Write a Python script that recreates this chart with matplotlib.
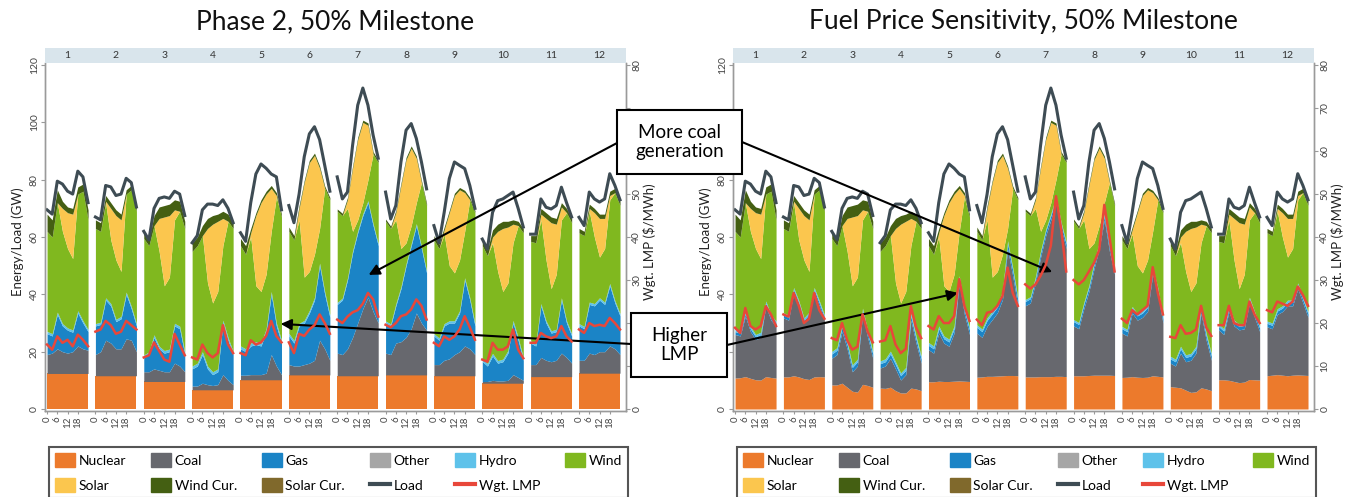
import numpy as np
import matplotlib.pyplot as plt
from matplotlib.patches import Patch, Rectangle
from matplotlib.lines import Line2D

plt.rcParams['font.family'] = ['Lato', 'DejaVu Sans']

# sample hours inside each representative day (one block per month)
hours = [0, 3, 6, 9, 12, 15, 18, 21, 24]
months = [str(i) for i in range(1, 13)]
hour_ticks = [0, 6, 12, 18]

""" Shared by both runs: load and renewables (GW), one row per month """
load = [
    [69.5, 68, 79.5, 78.5, 76, 75, 83, 81, 72],
    [67, 66, 78, 77.5, 74.5, 75, 80.5, 79, 70.5],
    [62, 59, 70, 73.5, 74, 73.5, 76, 75, 67.5],
    [58, 60.5, 69.5, 71.5, 71.5, 71, 73, 70, 65],
    [61.5, 58.5, 72, 82, 85.5, 84, 82, 81, 69.5],
    [71, 65, 75, 88, 96, 98.5, 94, 85, 76],
    [81, 73.3, 75.7, 92, 106, 112, 106, 95.6, 87.5],
    [75.7, 66.3, 71, 86.2, 97.3, 99.6, 94.4, 86.2, 76.8],
    [64, 58, 68.6, 80.4, 86.2, 85, 83.9, 78, 70],
    [59.3, 55.8, 68.6, 72.7, 73.3, 74.5, 75.7, 70, 63.5],
    [61, 61, 73.3, 70.4, 69.8, 71, 77.4, 72, 67],
    [66.9, 64, 75.7, 73.3, 72.2, 73.3, 82.1, 78, 73],
]
# top of the wind layer
wind_top = [
    [62, 60, 72, 62, 56, 52.5, 75, 76, 66],
    [63, 62, 72, 59, 52, 48, 75, 76.5, 69],
    [59.5, 57, 64, 55, 43, 46, 66, 69, 63],
    [55, 57, 60.5, 44, 37, 41, 57, 65.5, 63],
    [57, 54, 60, 43, 41, 47, 62, 74, 67],
    [62, 59, 66, 46, 48, 54, 63, 77, 73],
    [69, 67.5, 70, 62, 66, 72, 80, 89, 86],
    [65.5, 63, 66, 56, 58, 64, 72, 79, 71],
    [59, 56, 61, 50, 47.5, 52, 62, 73, 68.5],
    [57, 53.5, 58, 48, 41, 44, 58, 64, 61.5],
    [58.5, 58, 66, 52, 42, 47, 66, 68.5, 65],
    [61.5, 60.5, 69, 60, 53, 56, 73, 75.5, 71],
]
# top of the solar layer (served generation)
gen_top = [
    [62, 60, 72, 70, 68.5, 68, 75, 76, 66],
    [63, 62, 72.5, 70, 67.5, 66, 75, 76.5, 69],
    [59.5, 57, 64, 66.5, 67, 67.5, 69.5, 69, 63],
    [55, 57, 60.5, 63, 64.5, 65.5, 66.5, 65.5, 63],
    [57, 54, 61.5, 67.5, 72, 75, 77, 74.5, 67],
    [62, 59, 70, 79, 86, 88.5, 84, 77, 73],
    [69, 67.5, 73, 84, 94, 100, 99, 89, 86],
    [65.5, 63, 68.5, 78, 87, 91, 87.5, 79, 71],
    [59, 56, 62.5, 68.5, 74.5, 76.5, 75.5, 73, 68.5],
    [57, 53.5, 60, 62, 63, 63.5, 64.5, 64, 61.5],
    [58.5, 58, 68, 66.5, 65, 64.5, 70.5, 68.5, 65],
    [61.5, 60.5, 70, 68.5, 66.5, 66.5, 74.5, 75.5, 71],
]
wind_cur = [
    [6, 6, 4.5, 2.5, 2, 2, 2.5, 2.5, 3.5],
    [3, 3, 2, 2, 2, 2, 1.5, 1.5, 1.5],
    [2.5, 2, 3.5, 4, 4, 4, 3.5, 3.5, 2.5],
    [3, 3, 3.5, 3.5, 3, 2.5, 2.5, 2.5, 2],
    [2.5, 3, 1.5, 1, 1, 1, 1, 1, 1],
    [1.5, 1.5, 1, 0.8, 0.8, 0.8, 0.8, 0.8, 0.8],
    [0.8, 0.8, 0.8, 0.8, 0.8, 0.8, 0.8, 0.8, 0.8],
    [0.8, 0.8, 0.8, 0.8, 0.8, 0.8, 0.8, 0.8, 0.8],
    [1.5, 1.5, 1, 0.8, 0.8, 0.8, 0.8, 0.8, 0.8],
    [2, 2, 2.5, 2.5, 2.5, 2, 1.5, 1.5, 1.5],
    [2, 2.5, 2, 2, 2, 2, 1.5, 1.5, 1.5],
    [1.5, 1.5, 1.5, 1.5, 1.5, 1.5, 1.5, 1.5, 1.5],
]
hydro = [0.8, 0.8, 0.9, 1.0, 1.0, 0.9, 0.7, 0.7, 0.8, 0.9, 0.8, 0.8]

""" Phase 2, 50% Milestone """
p2_nuclear = [12.4, 11.6, 9.6, 6.7, 10.2, 11.9, 11.6, 11.9, 11.6, 9.0, 11.3, 12.5]
p2_coal_top = [
    [19, 19.5, 21, 20, 19.5, 20, 22, 21, 20.5],
    [19, 20, 24, 23, 21, 21, 24.5, 24, 20],
    [13, 13, 14, 13.5, 13, 13, 16, 15, 13],
    [8, 8, 9, 8.5, 8.2, 8.5, 12, 10, 8.5],
    [11.8, 11.8, 12, 12, 12, 12.5, 19, 15, 12],
    [15.5, 15, 15, 15.5, 16, 17, 24, 21, 17],
    [19.5, 19, 21, 25, 30, 35, 39, 34, 30],
    [19.5, 19, 23, 23.5, 25, 28, 33.5, 30, 27.5],
    [15.5, 15.5, 17, 17.5, 19, 20, 22, 21, 19],
    [9.6, 9.6, 10, 9.8, 9.8, 10, 12, 11, 10],
    [15.5, 15.5, 18, 17, 16.5, 17, 19.5, 18, 16],
    [17, 17, 19.5, 19, 20, 20, 22, 21, 19],
]
p2_gas_top = [
    [26.3, 25.5, 33, 29, 27.5, 26.8, 33.5, 30, 27],
    [29, 29.5, 38, 36, 30.5, 31.5, 40, 35, 29],
    [18, 19, 25, 21, 19.5, 20, 29, 28, 19],
    [14, 15, 19, 14, 12, 13, 30, 24, 19],
    [21, 20, 22, 22.5, 22, 27, 40, 29, 23],
    [25.5, 23, 29, 30, 33.5, 38, 50, 40, 32],
    [36.5, 38, 45, 54.5, 61.5, 67.5, 72, 64, 57],
    [30, 29, 36, 42, 50, 57, 64, 56, 47.5],
    [25.5, 24, 29, 30, 30, 33.5, 45, 38, 29],
    [16.6, 15, 18.5, 16, 16.5, 19.5, 30, 24, 17],
    [23, 22, 36, 30, 26.5, 27, 38, 30, 25.5],
    [29, 28, 36.5, 36, 38, 36.5, 43, 37, 32.5],
]
p2_lmp = [
    [15, 13.8, 16.9, 15.4, 16.1, 14.6, 17.3, 16.1, 14.6],
    [18, 18.5, 20.5, 19.5, 17.5, 18, 20.5, 19.5, 18.5],
    [12, 12.5, 15.5, 13.5, 11.5, 11, 17.5, 15, 12.5],
    [12, 11.5, 15, 13, 12, 13, 19.5, 15, 13],
    [13, 12.5, 16, 15, 15.5, 17, 20.5, 17, 15.5],
    [15.5, 13, 17.5, 17, 18.5, 19.5, 22, 20, 17.5],
    [20.8, 20, 21.5, 22.5, 23, 24.5, 27, 25.5, 21.5],
    [19.6, 19, 20, 21.6, 22, 23.2, 25.5, 24, 20.8],
    [15.4, 14.6, 16.9, 16.1, 16.9, 18.5, 21.6, 19, 16.1],
    [11.5, 11, 15.4, 13.8, 13.8, 14.6, 18.5, 13.8, 11.8],
    [15.4, 15.4, 17.7, 16.9, 16.5, 16.9, 19.3, 16.9, 15.7],
    [18.5, 17.7, 20, 19.3, 19.6, 19.3, 21.2, 20, 18.5],
]

""" Fuel Price Sensitivity, 50% Milestone """
fp_nuclear = [
    [10.8, 10.9, 11.3, 10.7, 10.2, 10.1, 11.3, 11.0, 10.8],
    [11.2, 11.2, 11.6, 11.2, 10.6, 10.3, 11.2, 11.3, 11.2],
    [8.4, 8.4, 9.0, 7.6, 6.2, 5.9, 8.6, 8.2, 7.6],
    [7.3, 7.2, 7.6, 6.4, 5.6, 5.6, 7.3, 7.0, 6.4],
    [9.5, 9.5, 9.7, 9.6, 9.6, 9.7, 9.8, 9.7, 9.6],
    [11.1, 11.2, 11.4, 11.4, 11.5, 11.6, 11.7, 11.7, 11.6],
    [11.2, 11.2, 11.2, 11.3, 11.3, 11.3, 11.4, 11.4, 11.3],
    [11.6, 11.6, 11.6, 11.7, 11.8, 11.8, 11.8, 11.8, 11.7],
    [11.0, 11.1, 11.3, 11.1, 11.0, 11.1, 11.6, 11.4, 11.2],
    [7.8, 7.6, 7.4, 6.6, 5.8, 6.0, 7.4, 7.0, 6.4],
    [10.2, 10.2, 10.0, 9.6, 9.2, 9.4, 10.3, 10.2, 10.1],
    [11.6, 11.8, 12.0, 11.8, 11.6, 11.8, 11.9, 11.8, 11.7],
]
fp_coal_top = [
    [26, 25.5, 32.4, 27, 24.2, 25, 35.9, 31, 28.9],
    [31.8, 31, 40.6, 36, 30, 32, 40.6, 36, 31],
    [17.7, 19, 27, 21, 13, 15, 32.8, 25, 17.7],
    [14.3, 15, 17.7, 14, 10.1, 12, 31, 23, 16],
    [20.7, 19.5, 26.5, 23, 21.9, 26.5, 44, 33, 26],
    [26.5, 25, 28.9, 31.2, 33.6, 38.2, 55.8, 46.4, 35.9],
    [36, 37, 44, 53, 60.5, 66, 72, 63, 56],
    [29, 28, 35, 41, 49, 56, 66, 55, 47],
    [26.5, 25.5, 33.5, 31, 32, 34, 47, 40, 30],
    [16, 15, 19.5, 16.5, 17, 19.5, 33.5, 24, 17],
    [27.6, 26, 34, 29, 27.6, 28, 37, 32, 27],
    [28.7, 28, 33, 34, 36, 36, 42, 37, 32],
]
fp_gas = [1, 1, 1.5, 1.5, 1.5, 2, 1.5, 1.5, 1.5, 1.5, 1.2, 1.2]
fp_lmp = [
    [18.9, 17.7, 23.5, 19.3, 18.5, 19.3, 23.9, 22, 19.3],
    [22, 21.5, 27, 24, 20, 21, 27, 23, 21],
    [16.5, 16, 20, 16, 13.8, 14.5, 22, 18, 15.5],
    [15.7, 16, 19.3, 15, 13, 14, 23.9, 19, 16.5],
    [19.3, 18.5, 21.6, 20, 20, 21.6, 30.2, 24, 20.5],
    [20.8, 19.5, 22.4, 22.7, 24, 26.3, 32.9, 27, 24],
    [29, 28, 29, 31, 33.5, 38, 49.5, 42, 32],
    [30, 29, 30, 32, 34, 37, 47.5, 40, 32],
    [21, 20, 23, 22, 23, 24, 33, 27, 22],
    [16.8, 16.5, 19.5, 17.5, 17.7, 18.5, 24, 19, 17],
    [19.5, 19.5, 24, 20, 19.5, 19.5, 25, 22, 20],
    [23, 22.5, 25, 24.5, 24, 25, 28.5, 26.5, 24],
]

colors = {
    'Nuclear': '#ec7a2c', 'Coal': '#67686e', 'Gas': '#1b84c6',
    'Other': '#a6a6a6', 'Hydro': '#5ec2ea', 'Wind': '#80b81f',
    'Solar': '#fbc64e', 'Wind Cur.': '#445f12', 'Solar Cur.': '#80692c',
    'Load': '#3e4c54', 'Wgt. LMP': '#e8473a',
}

W, H = 1345.0, 497.0
slot = 28.3     # hours per month block incl. gap
offset = 1.2
gw_lim = (-0.8, 120.7)


def block_x(m):
    return offset + m * slot + np.array(hours, dtype=float)


def draw_panel(left_px, title, nuclear, coal_top, gas_top, lmp):
    ax = fig.add_axes([left_px / W, (H - 411.3) / H, 581 / W, 348.2 / H])
    ax2 = ax.twinx()
    for m in range(12):
        x = block_x(m)
        nuc = np.zeros(9) + np.array(nuclear[m])
        coal = np.array(coal_top[m])
        gas = np.array(gas_top[m])
        hyd = gas + hydro[m]
        wind = np.array(wind_top[m])
        solar = np.array(gen_top[m])
        cur = solar + np.array(wind_cur[m])
        ax.fill_between(x, 0, nuc, color=colors['Nuclear'], lw=0)
        ax.fill_between(x, nuc, coal, color=colors['Coal'], lw=0)
        ax.fill_between(x, coal, gas, color=colors['Gas'], lw=0)
        ax.fill_between(x, gas, hyd, color=colors['Hydro'], lw=0)
        ax.fill_between(x, hyd, wind, color=colors['Wind'], lw=0)
        ax.fill_between(x, wind, solar, color=colors['Solar'], lw=0)
        ax.fill_between(x, solar, cur, color=colors['Wind Cur.'], lw=0)
        ax.plot(x, load[m], color=colors['Load'], lw=2.2, zorder=4)
        ax2.plot(x, lmp[m], color=colors['Wgt. LMP'], lw=1.8, zorder=5)

    ax.set_xlim(0, 340)
    ax.set_ylim(*gw_lim)
    ax2.set_ylim(gw_lim[0] / 1.5, gw_lim[1] / 1.5)
    ax.set_yticks(range(0, 121, 20))
    ax2.set_yticks(range(0, 81, 10))

    xt, xl = [], []
    for m in range(12):
        for h in hour_ticks:
            xt.append(offset + m * slot + h)
            xl.append(str(h))
    ax.set_xticks(xt)
    ax.set_xticklabels(xl)

    for a in (ax, ax2):
        a.spines['top'].set_visible(False)
        for s in ('left', 'right', 'bottom'):
            a.spines[s].set_color('#9a9a9a')
            a.spines[s].set_linewidth(1.0)
        a.tick_params(axis='y', labelrotation=90, labelsize=7.5, colors='#9a9a9a',
                      labelcolor='#444444', length=3, pad=1.5)
    ax.tick_params(axis='x', labelrotation=90, labelsize=7, colors='#9a9a9a',
                   labelcolor='#444444', length=2.5, pad=1)
    for t in ax.get_yticklabels() + ax2.get_yticklabels():
        t.set_verticalalignment('center')

    ax.set_ylabel('Energy/Load (GW)', fontsize=9.5, color='#222222')
    ax.yaxis.set_label_coords(-0.036, 0.486)
    ax2.set_ylabel('Wgt. LMP ($/MWh)', fontsize=9.5, color='#222222')
    ax2.yaxis.set_label_coords(1.029, 0.486)

    # month strip
    strip = fig.add_axes([left_px / W, (H - 63) / H, 581 / W, 15 / H])
    strip.set_facecolor('#d9e5ec')
    strip.set_xlim(0, 340)
    strip.set_ylim(0, 1)
    strip.set_xticks([])
    strip.set_yticks([])
    for s in strip.spines.values():
        s.set_visible(False)
    for m in range(12):
        strip.text(offset + m * slot + 12, 0.5, months[m], ha='center', va='center',
                   fontsize=7.5, color='#333333')

    fig.text((left_px + 290.5) / W, 1 - 22 / H, title, ha='center', va='center',
             fontsize=19, color='#111111')

    handles = [
        Patch(color=colors['Nuclear']), Patch(color=colors['Solar']),
        Patch(color=colors['Coal']), Patch(color=colors['Wind Cur.']),
        Patch(color=colors['Gas']), Patch(color=colors['Solar Cur.']),
        Patch(color=colors['Other']), Line2D([], [], color=colors['Load'], lw=3),
        Patch(color=colors['Hydro']), Line2D([], [], color=colors['Wgt. LMP'], lw=3),
        Patch(color=colors['Wind']),
    ]
    labels = ['Nuclear', 'Solar', 'Coal', 'Wind Cur.', 'Gas', 'Solar Cur.',
              'Other', 'Load', 'Hydro', 'Wgt. LMP', 'Wind']
    leg = fig.legend(handles, labels, ncol=6, loc='upper left',
                     bbox_to_anchor=((left_px - 3.3) / W, 1 - 440 / H),
                     fontsize=10, handlelength=1.45, handleheight=1.2,
                     handletextpad=0.25, labelspacing=0.75, borderpad=0.45,
                     columnspacing=1.8, fancybox=False, framealpha=1,
                     edgecolor='#555555')
    leg.get_frame().set_linewidth(1.5)
    return ax, ax2


fig = plt.figure(figsize=(13.45, 4.97), dpi=100)

ax_l, ax_l2 = draw_panel(45, 'Phase 2, 50% Milestone', p2_nuclear, p2_coal_top, p2_gas_top, p2_lmp)

fp_gas_top = [list(np.array(fp_coal_top[m]) + fp_gas[m]) for m in range(12)]
ax_r, ax_r2 = draw_panel(733, 'Fuel Price Sensitivity, 50% Milestone', fp_nuclear, fp_coal_top,
                         fp_gas_top, fp_lmp)

# tick labels that sit under the callout box are hidden by it in the original
for t, v in zip(ax_l2.get_yticklabels(), range(0, 81, 10)):
    if v in (60, 70):
        t.set_visible(False)
for t, v in zip(ax_r.get_yticklabels(), range(0, 121, 20)):
    if v == 100:
        t.set_visible(False)

# callout boxes (figure pixels: left, top, right, bottom)
for (x0, y0, x1, y1), txt in [((617, 110, 742, 174), 'More coal\ngeneration'),
                              ((631, 313, 727, 377), 'Higher\nLMP')]:
    fig.add_artist(Rectangle((x0 / W, 1 - y1 / H), (x1 - x0) / W, (y1 - y0) / H,
                             transform=fig.transFigure, fc='white', ec='black',
                             lw=1.5, zorder=20))
    fig.text((x0 + x1) / 2 / W, 1 - (y0 + y1) / 2 / H, txt, ha='center', va='center',
             fontsize=13.5, linespacing=1.2, zorder=21)

arrow = dict(arrowstyle='-|>', color='black', lw=1.5, mutation_scale=16, shrinkA=0, shrinkB=0)
ax_l2.annotate('', xy=(offset + 6 * slot + 18.4, 46.8), xycoords=ax_l.transData,
               xytext=(617 / W, 1 - 143 / H), textcoords='figure fraction',
               arrowprops=arrow, annotation_clip=False)
ax_r2.annotate('', xy=(offset + 6 * slot + 15.8, 47.8), xycoords=ax_r.transData,
               xytext=(742 / W, 1 - 142 / H), textcoords='figure fraction',
               arrowprops=arrow, annotation_clip=False)
ax_l2.annotate('', xy=(offset + 4 * slot + 23.5, 29.7), xycoords=ax_l.transData,
               xytext=(631 / W, 1 - 344 / H), textcoords='figure fraction',
               arrowprops=arrow, annotation_clip=False)
ax_r2.annotate('', xy=(offset + 4 * slot + 17.3, 40.5), xycoords=ax_r.transData,
               xytext=(727 / W, 1 - 345 / H), textcoords='figure fraction',
               arrowprops=arrow, annotation_clip=False)

fig.savefig('out.png', dpi=100)
